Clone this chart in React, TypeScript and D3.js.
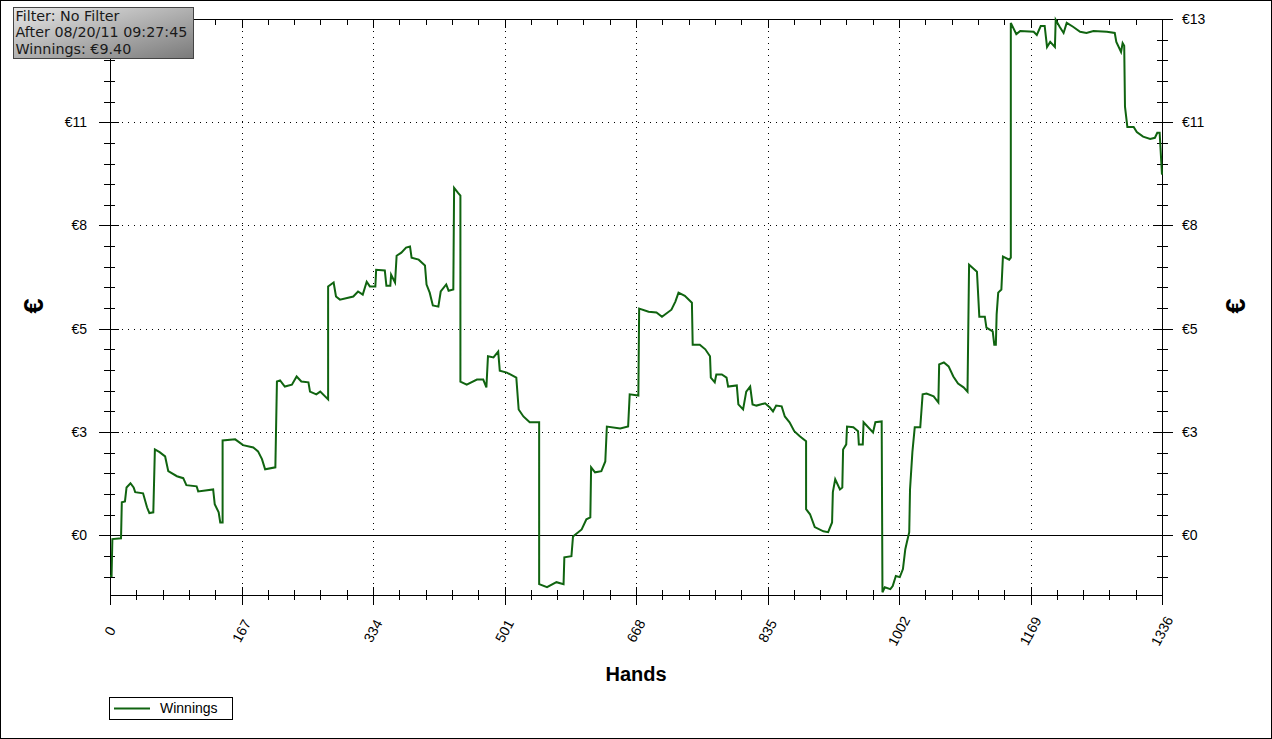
import * as d3 from "d3";
import { useEffect, useRef } from "react";

const WIDTH = 1272;
const HEIGHT = 739;
const PLOT = { left: 110, right: 1162, top: 19, bottom: 595 };

// hand number / running winnings (€)
const HANDS = [
  0, 2, 3, 14, 15, 19, 21, 26, 30, 32, 42, 47, 50, 55, 57, 63, 70, 74, 85, 93,
  97, 110, 112, 131, 133, 138, 140, 143, 143, 159, 169, 182, 188, 193, 197, 210,
  212, 216, 222, 231, 237, 243, 252, 254, 262, 267, 277, 277, 284, 287, 292, 309,
  315, 321, 326, 330, 337, 338, 349, 351, 356, 357, 362, 364, 370, 376, 381, 383,
  392, 400, 402, 406, 410, 417, 420, 427, 430, 436, 437, 442, 445, 445, 453, 466,
  474, 478, 480, 487, 493, 495, 504, 516, 519, 525, 533, 545, 545, 555, 567, 576,
  577, 586, 588, 599, 605, 610, 611, 616, 624, 629, 631, 648, 658, 660, 671, 672,
  684, 694, 701, 713, 718, 722, 730, 739, 740, 749, 756, 762, 763, 768, 770, 777,
  783, 785, 796, 798, 804, 808, 813, 816, 821, 832, 838, 842, 846, 853, 857, 863,
  869, 876, 884, 884, 889, 895, 906, 912, 917, 918, 921, 927, 930, 931, 935, 936,
  944, 950, 951, 956, 957, 969, 972, 980, 981, 984, 991, 994, 998, 1003, 1007,
  1010, 1012, 1015, 1016, 1019, 1022, 1029, 1032, 1037, 1046, 1052, 1053, 1059,
  1065, 1071, 1077, 1084, 1089, 1091, 1101, 1104, 1111, 1113, 1121, 1123, 1125,
  1126, 1128, 1132, 1134, 1142, 1144, 1144, 1151, 1156, 1173, 1177, 1182, 1187,
  1190, 1194, 1200, 1201, 1206, 1211, 1215, 1223, 1232, 1240, 1249, 1266, 1276,
  1278, 1284, 1286, 1288, 1289, 1292, 1300, 1304, 1312, 1321, 1327, 1330, 1333,
  1336,
];
const WINNINGS = [
  -1.05, -1.05, -0.1, -0.08, 0.85, 0.87, 1.23, 1.34, 1.23, 1.11, 1.08, 0.72, 0.57,
  0.59, 2.21, 2.14, 2.03, 1.65, 1.52, 1.47, 1.29, 1.26, 1.13, 1.18, 0.8, 0.59,
  0.33, 0.33, 2.44, 2.47, 2.32, 2.26, 2.16, 1.96, 1.7, 1.75, 3.96, 3.99, 3.83,
  3.88, 4.09, 3.96, 3.94, 3.7, 3.63, 3.7, 3.5, 6.41, 6.51, 6.15, 6.07, 6.15, 6.28,
  6.2, 6.53, 6.41, 6.41, 6.84, 6.82, 6.43, 6.43, 6.71, 6.51, 7.2, 7.28, 7.41,
  7.44, 7.15, 7.1, 6.95, 6.46, 6.25, 5.92, 5.89, 6.28, 6.46, 6.3, 6.33, 8.95,
  8.82, 8.75, 3.96, 3.88, 4.01, 4.01, 3.81, 4.61, 4.58, 4.73, 4.24, 4.19, 4.06,
  3.24, 3.06, 2.91, 2.91, -1.26, -1.34, -1.21, -1.26, -0.57, -0.54, -0.03, 0.15,
  0.41, 0.46, 1.75, 1.62, 1.65, 1.9, 2.8, 2.75, 2.8, 3.63, 3.6, 5.84, 5.76, 5.74,
  5.63, 5.81, 6.02, 6.25, 6.17, 5.99, 4.91, 4.91, 4.79, 4.61, 4.06, 3.94, 4.14,
  4.14, 4.06, 3.83, 3.86, 3.37, 3.24, 3.7, 3.83, 3.37, 3.34, 3.4, 3.29, 3.19,
  3.34, 3.32, 3.06, 2.91, 2.68, 2.55, 2.42, 0.67, 0.54, 0.21, 0.1, 0.08, 0.33,
  1.11, 1.44, 1.18, 1.23, 2.21, 2.34, 2.8, 2.78, 2.68, 2.34, 2.34, 2.91, 2.65,
  2.91, 2.93, -1.47, -1.34, -1.39, -1.31, -1.05, -1.08, -0.87, -0.36, -0.18, 0.08,
  1.18, 2.14, 2.78, 2.78, 3.63, 3.65, 3.58, 3.42, 4.4, 4.45, 4.35, 4.09, 3.91,
  3.81, 3.7, 6.97, 6.79, 5.63, 5.63, 5.35, 5.25, 4.91, 4.91, 5.69, 6.25, 6.33,
  7.18, 7.1, 7.15, 13.2, 12.91, 12.99, 12.97, 12.89, 13.12, 13.12, 12.58, 12.71,
  12.58, 13.28, 13.1, 12.94, 13.2, 13.1, 12.97, 12.94, 12.99, 12.97, 12.94, 12.71,
  12.45, 12.68, 12.61, 11.04, 10.52, 10.52, 10.39, 10.27, 10.21, 10.24, 10.37,
  10.37, 9.29,
];

const X_TICKS = [0, 167, 334, 501, 668, 835, 1002, 1169, 1336];
const X_MINOR_STEP = 33.4;
const Y_DOMAIN = [-1.54, 13.3];
const Y_TICKS = [0, 2.66, 5.32, 7.98, 10.64, 13.3];
const Y_LABELS = ["€0", "€3", "€5", "€8", "€11", "€13"];
const Y_MINOR_STEP = 0.532;

const INFO_LINES = [
  "Filter: No Filter",
  "After 08/20/11 09:27:45",
  "Winnings: €9.40",
];
const SERIES_NAME = "Winnings";
const X_TITLE = "Hands";
const Y_TITLE = "€";
const LINE_COLOR = "#106410";
const FONT = "'Liberation Sans', Arial, sans-serif";

const px = (v: number) => Math.round(v) + 0.5;

const WinningsChart = () => {
  const ref = useRef<SVGSVGElement>(null);

  useEffect(() => {
    const svg = d3.select(ref.current);
    svg.selectAll("*").remove();

    const x = d3
      .scaleLinear()
      .domain([0, 1336])
      .range([PLOT.left, PLOT.right]);
    const y = d3
      .scaleLinear()
      .domain(Y_DOMAIN)
      .range([PLOT.bottom, PLOT.top]);

    svg
      .append("rect")
      .attr("x", 0.5)
      .attr("y", 0.5)
      .attr("width", WIDTH - 1)
      .attr("height", HEIGHT - 1)
      .attr("fill", "#fff")
      .attr("stroke", "#000");

    const line = (x1: number, y1: number, x2: number, y2: number, dash?: string) =>
      svg
        .append("line")
        .attr("x1", x1)
        .attr("y1", y1)
        .attr("x2", x2)
        .attr("y2", y2)
        .attr("stroke", "#000")
        .attr("stroke-width", 1)
        .attr("stroke-dasharray", dash ?? null);

    // dotted grid
    X_TICKS.slice(1, -1).forEach((t) =>
      line(px(x(t)), PLOT.top, px(x(t)), PLOT.bottom, "1 5")
    );
    Y_TICKS.slice(1, -1).forEach((t) =>
      line(PLOT.left, px(y(t)), PLOT.right, px(y(t)), "1 5")
    );

    // zero line and frame
    line(PLOT.left - 11, px(y(0)), PLOT.right + 11, px(y(0)));
    line(PLOT.left - 11, px(PLOT.top), PLOT.right + 11, px(PLOT.top));
    line(px(PLOT.left), PLOT.top, px(PLOT.left), PLOT.bottom + 10);
    line(px(PLOT.right), PLOT.top, px(PLOT.right), PLOT.bottom + 10);
    line(PLOT.left, px(PLOT.bottom), PLOT.right, px(PLOT.bottom));

    // x ticks (bottom + top)
    const xMinor = d3.range(0, 1336 + 0.01, X_MINOR_STEP);
    xMinor.forEach((t) => {
      const xx = px(x(t));
      line(xx, PLOT.bottom - 5, xx, PLOT.bottom + 5);
      line(xx, PLOT.top, xx, PLOT.top + 6);
    });
    X_TICKS.forEach((t) => {
      const xx = px(x(t));
      line(xx, PLOT.bottom - 8, xx, PLOT.bottom + 10);
      line(xx, PLOT.top, xx, PLOT.top + 9);
    });

    // y ticks (left + right)
    const yMinor = d3.range(-2 * Y_MINOR_STEP, Y_DOMAIN[1] + 0.01, Y_MINOR_STEP);
    yMinor.forEach((t) => {
      const yy = px(y(t));
      line(PLOT.left - 6, yy, PLOT.left + 5, yy);
      line(PLOT.right - 5, yy, PLOT.right + 6, yy);
    });
    Y_TICKS.forEach((t) => {
      const yy = px(y(t));
      line(PLOT.left - 11, yy, PLOT.left + 9, yy);
      line(PLOT.right - 9, yy, PLOT.right + 11, yy);
    });

    // tick labels (the top-left one sits under the info box, so it is skipped)
    Y_TICKS.forEach((t, i) => {
      if (i < Y_TICKS.length - 1) {
        svg
          .append("text")
          .attr("x", PLOT.left - 23)
          .attr("y", y(t))
          .attr("dy", "0.35em")
          .attr("text-anchor", "end")
          .style("font-family", FONT)
          .style("font-size", "14px")
          .text(Y_LABELS[i]);
      }
      svg
        .append("text")
        .attr("x", PLOT.right + 20)
        .attr("y", y(t))
        .attr("dy", "0.35em")
        .attr("text-anchor", "start")
        .style("font-family", FONT)
        .style("font-size", "14px")
        .text(Y_LABELS[i]);
    });

    X_TICKS.forEach((t) => {
      svg
        .append("text")
        .attr("transform", `translate(${x(t)},${PLOT.bottom + 36}) rotate(-62)`)
        .attr("dy", "0.35em")
        .attr("text-anchor", "middle")
        .style("font-family", FONT)
        .style("font-size", "14px")
        .text(String(t));
    });

    // axis titles
    svg
      .append("text")
      .attr("x", (PLOT.left + PLOT.right) / 2)
      .attr("y", 681)
      .attr("text-anchor", "middle")
      .style("font-family", FONT)
      .style("font-size", "20px")
      .style("font-weight", "bold")
      .text(X_TITLE);
    [34, 1236].forEach((cx) =>
      svg
        .append("text")
        .attr("transform", `translate(${cx},${306}) rotate(-90)`)
        .attr("dy", "0.35em")
        .attr("text-anchor", "middle")
        .style("font-family", FONT)
        .style("font-size", "27px")
        .style("font-weight", "bold")
        .text(Y_TITLE)
    );

    // series
    const points = HANDS.map((h, i) => [h, WINNINGS[i]] as [number, number]);
    const path = d3
      .line<[number, number]>()
      .x((d) => x(d[0]))
      .y((d) => y(d[1]));
    svg
      .append("path")
      .attr("d", path(points))
      .attr("fill", "none")
      .attr("stroke", LINE_COLOR)
      .attr("stroke-width", 2)
      .attr("stroke-linejoin", "miter");

    // info box
    const defs = svg.append("defs");
    const grad = defs
      .append("linearGradient")
      .attr("id", "infoGrad")
      .attr("x1", "0")
      .attr("y1", "0")
      .attr("x2", "1")
      .attr("y2", "1");
    grad.append("stop").attr("offset", "0%").attr("stop-color", "#e8e8e8");
    grad.append("stop").attr("offset", "100%").attr("stop-color", "#7a7a7a");

    svg
      .append("rect")
      .attr("x", 13.5)
      .attr("y", 7.5)
      .attr("width", 180)
      .attr("height", 51)
      .attr("fill", "url(#infoGrad)")
      .attr("stroke", "#444");

    INFO_LINES.forEach((s, i) => {
      svg
        .append("text")
        .attr("x", 15.5)
        .attr("y", 21 + i * 16.3)
        .style("font-family", "'DejaVu Sans', Verdana, sans-serif")
        .style("font-size", "14.3px")
        .attr("fill", "#1a1a1a")
        .text(s);
    });

    // legend
    svg
      .append("rect")
      .attr("x", 109.5)
      .attr("y", 697.5)
      .attr("width", 123)
      .attr("height", 22)
      .attr("fill", "#fff")
      .attr("stroke", "#000");
    svg
      .append("line")
      .attr("x1", 114)
      .attr("x2", 150)
      .attr("y1", 708.5)
      .attr("y2", 708.5)
      .attr("stroke", LINE_COLOR)
      .attr("stroke-width", 2);
    svg
      .append("text")
      .attr("x", 160)
      .attr("y", 713)
      .style("font-family", FONT)
      .style("font-size", "14px")
      .text(SERIES_NAME);
  }, []);

  return (
    <svg
      ref={ref}
      width={WIDTH}
      height={HEIGHT}
      style={{ position: "absolute", left: 0, top: 0, display: "block" }}
    />
  );
};

export default function App() {
  return <WinningsChart />;
}
